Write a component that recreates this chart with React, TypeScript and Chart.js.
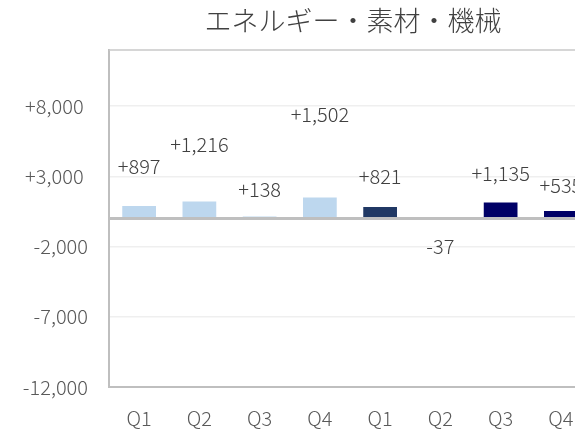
import React, { useEffect, useRef } from 'react';
import { Chart, registerables } from 'chart.js';

Chart.register(...registerables);

const chartTitle = 'エネルギー・素材・機械';
const categories = ['Q1', 'Q2', 'Q3', 'Q4', 'Q1', 'Q2', 'Q3', 'Q4'];
const values = [897, 1216, 138, 1502, 821, -37, 1135, 535];
const barColors = ['#BDD7EE', '#BDD7EE', '#BDD7EE', '#BDD7EE', '#203864', '#203864', '#000066', '#000066'];
// data-label anchor heights (in axis units)
const labelAnchors = [3730, 5290, 2060, 7380, 2980, -1970, 3230, 2380];
const yTickValues = [-12000, -7000, -2000, 3000, 8000];
const yMin = -12000;
const yMax = 12000;

const FONT = '"Noto Sans CJK JP", "Noto Sans", sans-serif';
const TEXT = '#595959';

const fmt = (v: number) => (v > 0 ? '+' : '') + v.toLocaleString('en-US');

const extrasPlugin = {
  id: 'extras',
  afterDatasetsDraw(chart: any) {
    const { ctx, chartArea, scales } = chart;
    const y = scales.y;
    const x = scales.x;
    ctx.save();
    // title (centred on the whole chart object)
    ctx.fillStyle = '#404040';
    ctx.font = `300 27px ${FONT}`;
    ctx.textAlign = 'center';
    ctx.textBaseline = 'middle';
    ctx.fillText(chartTitle, chart.width / 2, 21);
    // top frame
    ctx.strokeStyle = '#C8C8C8';
    ctx.lineWidth = 1.5;
    ctx.beginPath();
    ctx.moveTo(chartArea.left, chartArea.top);
    ctx.lineTo(chartArea.right, chartArea.top);
    ctx.stroke();
    // zero line
    const y0 = y.getPixelForValue(0);
    ctx.strokeStyle = '#BFBFBF';
    ctx.lineWidth = 3;
    ctx.beginPath();
    ctx.moveTo(chartArea.left, y0);
    ctx.lineTo(chartArea.right, y0);
    ctx.stroke();
    // data labels
    ctx.fillStyle = '#404040';
    ctx.font = `300 20px ${FONT}`;
    ctx.textAlign = 'center';
    ctx.textBaseline = 'middle';
    values.forEach((v, i) => {
      const px = x.getPixelForValue(i);
      const py = y.getPixelForValue(labelAnchors[i]);
      ctx.fillText(fmt(v), px, py);
    });
    ctx.restore();
  },
};

export default function App() {
  const ref = useRef<HTMLCanvasElement | null>(null);
  useEffect(() => {
    if (!ref.current) return;
    const chart = new Chart(ref.current, {
      type: 'bar',
      data: {
        labels: categories,
        datasets: [
          {
            data: values,
            backgroundColor: barColors,
            borderWidth: 0,
            barPercentage: 0.56,
            categoryPercentage: 1,
          },
        ],
      },
      options: {
        animation: false,
        responsive: false,
        devicePixelRatio: 1,
        layout: { padding: { left: 0, right: 115, top: 50, bottom: 0 } },
        plugins: {
          legend: { display: false },
          tooltip: { enabled: false },
          title: { display: false },
        },
        scales: {
          x: {
            grid: { display: false, drawTicks: false },
            border: { display: true, color: '#BFBFBF', width: 2 },
            ticks: { color: TEXT, font: { family: FONT, size: 20, weight: '300' }, padding: 19, maxRotation: 0 },
            afterFit: (s: any) => {
              s.height = 42;
            },
          },
          y: {
            min: yMin,
            max: yMax,
            afterBuildTicks: (s: any) => {
              s.ticks = yTickValues.map((v) => ({ value: v }));
            },
            afterFit: (s: any) => {
              s.width = 109;
            },
            grid: { color: '#EFEFEF', lineWidth: 1.5, drawTicks: false },
            border: { display: true, color: '#BFBFBF', width: 2 },
            ticks: {
              color: TEXT,
              font: { family: FONT, size: 20, weight: '300' },
              padding: 21,
              callback: (v: any) => (v > 0 ? fmt(v) + ' ' : fmt(v)),
            },
          },
        },
      },
      plugins: [extrasPlugin],
    });
    return () => chart.destroy();
  }, []);
  return (
    <div style={{ position: 'fixed', left: 0, top: 0, width: 575, height: 429, overflow: 'hidden', background: '#fff' }}>
      <canvas ref={ref} width={706} height={429} style={{ display: 'block', width: 706, height: 429 }} />
    </div>
  );
}
